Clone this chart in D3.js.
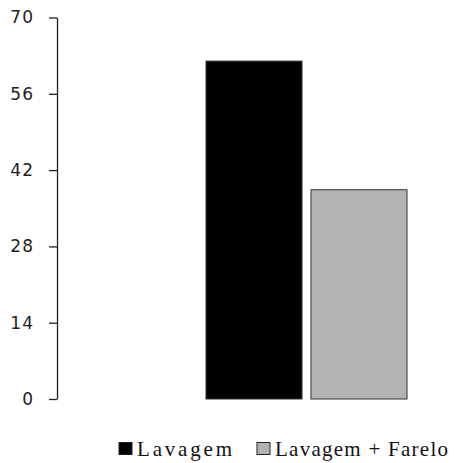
<!DOCTYPE html>
<html><head><meta charset="utf-8">
<script src="https://cdn.jsdelivr.net/npm/d3@7"></script>
<style>body{margin:0;background:#fff}</style>
</head><body>
<script>
const categories = ["Lavagem", "Lavagem + Farelo"];
const values = [62, 38.4];
const colors = ["#000000", "#b3b3b3"];
const tickValues = [0, 14, 28, 42, 56, 70];

const svg = d3.select("body").append("svg").attr("width", 462).attr("height", 463);
const y = d3.scaleLinear().domain([0, 70]).range([399, 17.5]);
const x = d3.scaleBand().domain(categories).range([206, 407]).paddingInner(0.0857).paddingOuter(0);

const ax = svg.append("g").attr("transform", "translate(57,0)")
  .call(d3.axisLeft(y).tickValues(tickValues).tickSize(8).tickPadding(15).tickSizeOuter(0));
ax.select(".domain").attr("stroke", "#222").attr("stroke-width", 1.3);
ax.selectAll(".tick line").attr("stroke", "#222").attr("stroke-width", 1.3);
ax.selectAll(".tick text").attr("font-family", "DejaVu Sans, Verdana, sans-serif")
  .attr("font-size", 17).attr("fill", "#222").attr("letter-spacing", 1);

svg.selectAll("rect.bar").data(categories).enter().append("rect").attr("class", "bar")
  .attr("x", d => x(d)).attr("width", x.bandwidth())
  .attr("y", (d, i) => y(values[i])).attr("height", (d, i) => y(0) - y(values[i]))
  .attr("fill", (d, i) => colors[i]).attr("stroke", "#333").attr("stroke-width", 1);

const legX = [119, 257];
const legW = [95, 173];
const leg = svg.selectAll("g.leg").data(categories).enter().append("g").attr("class", "leg");
leg.append("rect").attr("x", (d, i) => legX[i]).attr("y", 442.5).attr("width", 13).attr("height", 12)
  .attr("fill", (d, i) => colors[i]).attr("stroke", "#222").attr("stroke-width", 1);
leg.append("text").attr("x", (d, i) => legX[i] + 18).attr("y", 455.5)
  .attr("font-family", "Liberation Serif, Times New Roman, serif").attr("font-size", 21)
  .attr("fill", "#111")
  .attr("textLength", (d, i) => legW[i]).attr("lengthAdjust", "spacing")
  .text(d => d);
</script>
</body></html>
